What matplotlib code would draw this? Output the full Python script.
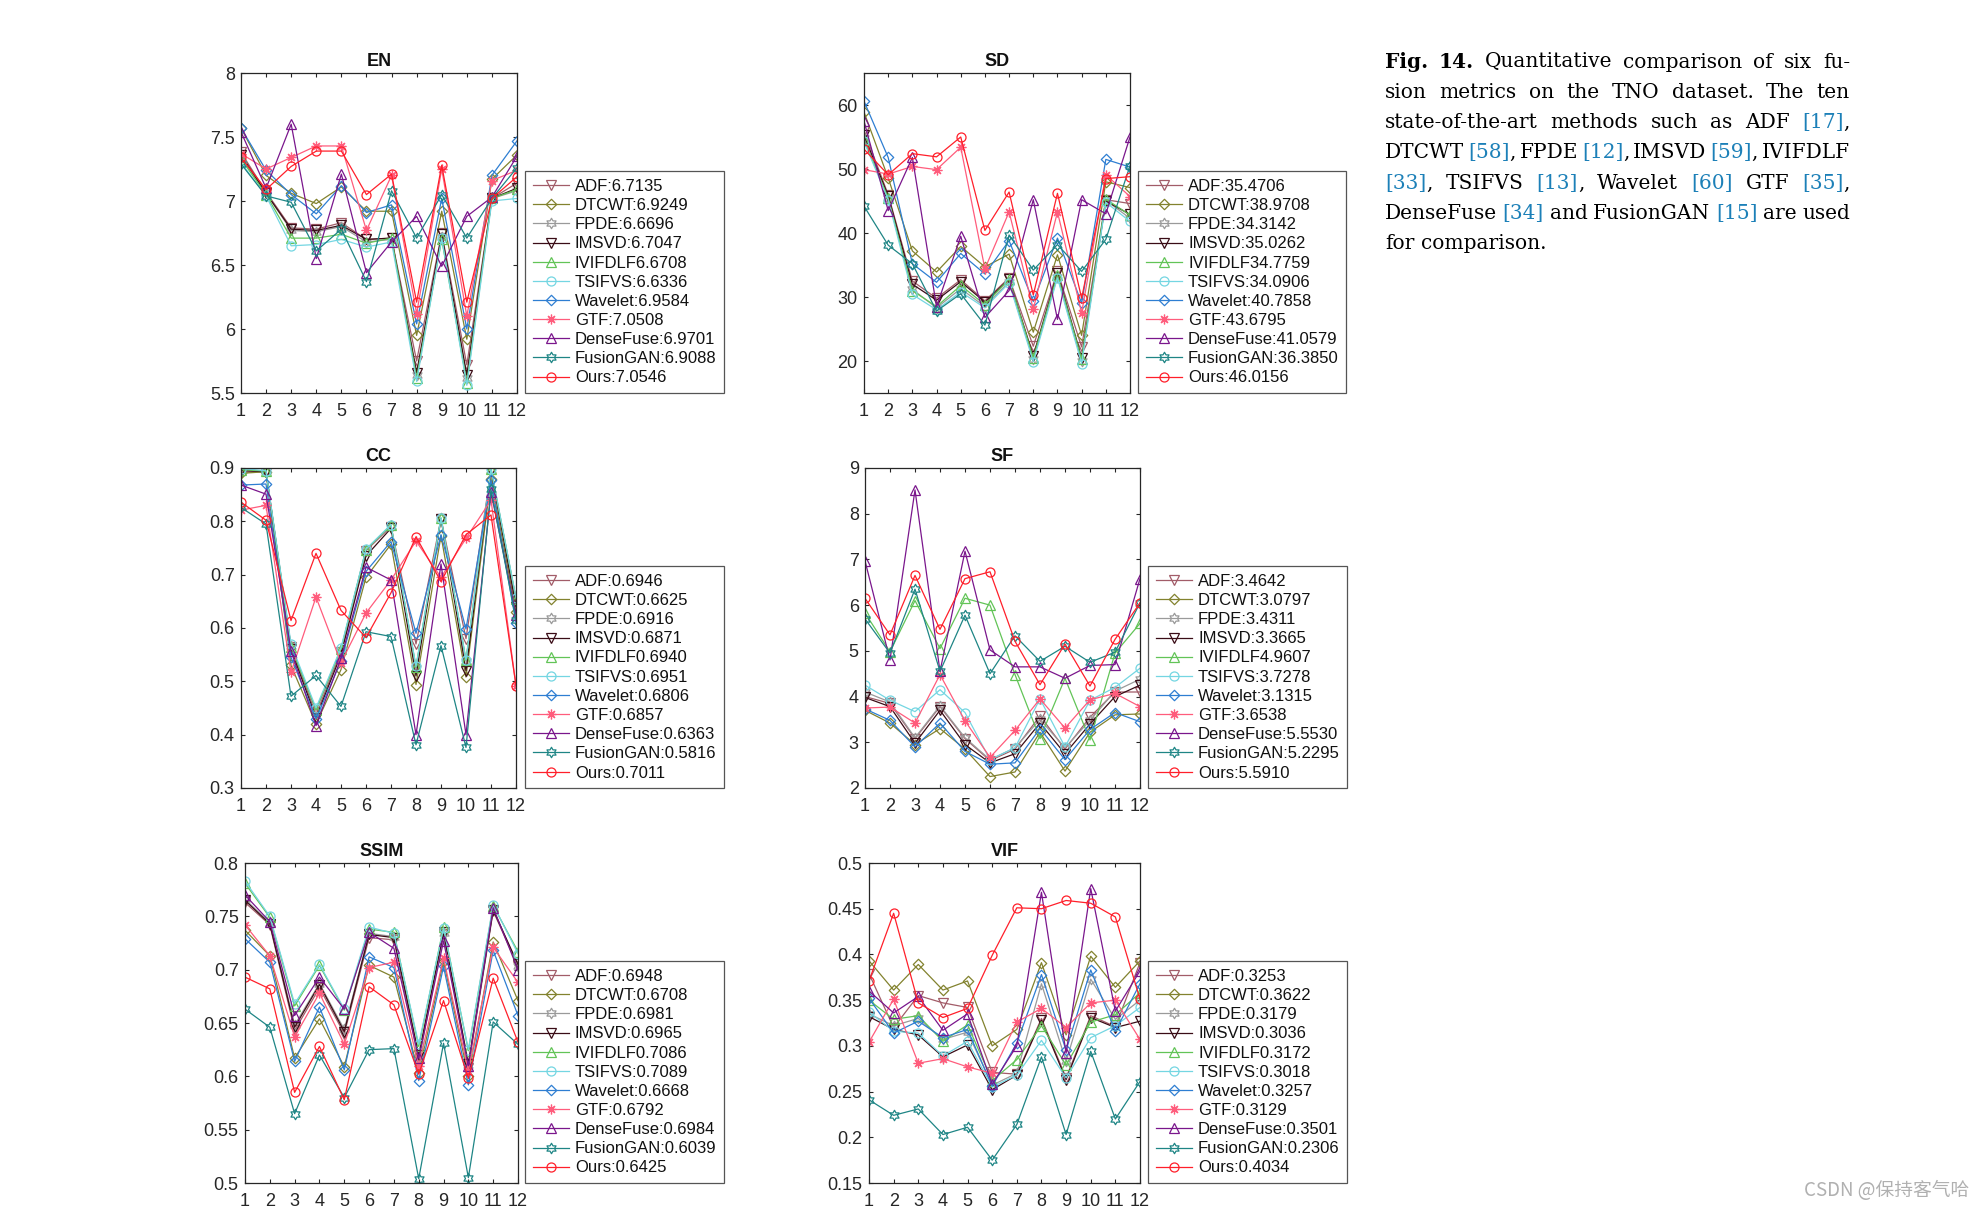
import re
import matplotlib
matplotlib.use("Agg")
import matplotlib.pyplot as plt
from matplotlib.path import Path

# ---------------- data ----------------
x_vals = list(range(1, 13))
methods = ['ADF', 'DTCWT', 'FPDE', 'IMSVD', 'IVIFDLF', 'TSIFVS', 'Wavelet',
           'GTF', 'DenseFuse', 'FusionGAN', 'Ours']
label_prefix = ['ADF:', 'DTCWT:', 'FPDE:', 'IMSVD:', 'IVIFDLF', 'TSIFVS:',
                'Wavelet:', 'GTF:', 'DenseFuse:', 'FusionGAN:', 'Ours:']

# rows follow the order of `methods`
EN_values = [
    [7.38, 7.07, 6.79, 6.78, 6.83, 6.70, 6.71, 5.75, 6.75, 5.72, 7.02, 7.14],
    [7.57, 7.20, 7.06, 6.98, 7.11, 6.92, 6.92, 5.95, 6.92, 5.92, 7.17, 7.36],
    [7.34, 7.06, 6.77, 6.76, 6.80, 6.68, 6.70, 5.64, 6.72, 5.62, 7.02, 7.08],
    [7.36, 7.06, 6.78, 6.77, 6.81, 6.70, 6.71, 5.66, 6.74, 5.64, 7.02, 7.10],
    [7.33, 7.05, 6.71, 6.71, 6.74, 6.67, 6.71, 5.62, 6.70, 5.58, 7.02, 7.09],
    [7.30, 7.04, 6.65, 6.66, 6.70, 6.64, 6.68, 5.59, 6.71, 5.56, 7.00, 7.02],
    [7.57, 7.24, 7.05, 6.90, 7.12, 6.91, 6.97, 6.04, 7.02, 6.00, 7.20, 7.47],
    [7.37, 7.25, 7.34, 7.43, 7.43, 6.77, 7.20, 6.12, 7.25, 6.10, 7.16, 7.24],
    [7.54, 7.10, 7.60, 6.55, 7.21, 6.44, 6.68, 6.88, 6.49, 6.88, 7.03, 7.35],
    [7.29, 7.04, 6.99, 6.61, 6.78, 6.37, 7.08, 6.71, 7.05, 6.71, 7.02, 7.26],
    [7.34, 7.09, 7.27, 7.39, 7.39, 7.05, 7.21, 6.21, 7.28, 6.21, 7.02, 7.19],
]
EN_means = [6.7135, 6.9249, 6.6696, 6.7047, 6.6708, 6.6336, 6.9584, 7.0508, 6.9701, 6.9088, 7.0546]

SD_values = [
    [56.0, 46.0, 32.5, 29.8, 32.7, 29.4, 33.0, 22.3, 34.0, 22.2, 45.2, 44.6],
    [58.9, 48.6, 37.2, 33.9, 37.9, 34.7, 36.7, 24.5, 36.6, 24.0, 48.0, 47.1],
    [54.8, 45.5, 31.2, 28.3, 31.3, 28.5, 32.4, 20.3, 33.2, 20.0, 45.1, 42.3],
    [55.3, 45.8, 32.0, 29.5, 32.4, 29.2, 32.8, 20.8, 33.8, 20.5, 45.0, 42.9],
    [54.5, 45.5, 31.0, 28.5, 31.8, 28.8, 32.8, 20.5, 33.5, 20.3, 45.3, 42.8],
    [54.3, 45.2, 30.4, 28.0, 30.8, 28.3, 32.2, 19.9, 33.0, 19.6, 44.8, 41.8],
    [60.6, 51.8, 35.2, 32.3, 36.8, 33.6, 38.8, 29.3, 39.2, 29.0, 51.5, 50.3],
    [49.9, 49.2, 50.4, 49.9, 53.4, 34.4, 43.3, 28.1, 43.3, 27.5, 49.1, 45.7],
    [57.5, 43.5, 51.8, 28.5, 39.5, 26.8, 31.0, 45.2, 26.5, 45.2, 43.0, 55.0],
    [44.2, 38.1, 35.2, 27.8, 30.5, 25.6, 39.7, 34.2, 38.2, 34.0, 39.0, 50.5],
    [53.1, 49.1, 52.4, 51.9, 55.0, 40.4, 46.4, 30.3, 46.2, 29.8, 48.5, 48.8],
]
SD_means = [35.4706, 38.9708, 34.3142, 35.0262, 34.7759, 34.0906, 40.7858, 43.6795, 41.0579, 36.3850, 46.0156]

CC_values = [
    [0.892, 0.893, 0.565, 0.438, 0.555, 0.745, 0.790, 0.570, 0.805, 0.580, 0.895, 0.648],
    [0.890, 0.893, 0.530, 0.420, 0.522, 0.695, 0.757, 0.494, 0.773, 0.508, 0.880, 0.630],
    [0.897, 0.894, 0.566, 0.445, 0.558, 0.747, 0.792, 0.525, 0.806, 0.538, 0.897, 0.655],
    [0.895, 0.893, 0.560, 0.432, 0.550, 0.735, 0.787, 0.510, 0.805, 0.520, 0.895, 0.640],
    [0.897, 0.894, 0.565, 0.447, 0.561, 0.747, 0.793, 0.527, 0.806, 0.540, 0.898, 0.655],
    [0.899, 0.895, 0.570, 0.450, 0.563, 0.748, 0.794, 0.528, 0.807, 0.540, 0.899, 0.657],
    [0.868, 0.870, 0.545, 0.430, 0.538, 0.706, 0.762, 0.590, 0.775, 0.598, 0.877, 0.609],
    [0.821, 0.830, 0.517, 0.658, 0.535, 0.628, 0.690, 0.763, 0.695, 0.768, 0.840, 0.492],
    [0.868, 0.851, 0.557, 0.417, 0.543, 0.714, 0.690, 0.400, 0.720, 0.400, 0.855, 0.625],
    [0.826, 0.795, 0.472, 0.511, 0.453, 0.593, 0.584, 0.381, 0.567, 0.376, 0.860, 0.615],
    [0.836, 0.802, 0.614, 0.740, 0.633, 0.582, 0.666, 0.771, 0.687, 0.775, 0.812, 0.492],
]
CC_means = [0.6946, 0.6625, 0.6916, 0.6871, 0.6940, 0.6951, 0.6806, 0.6857, 0.6363, 0.5816, 0.7011]

SF_values = [
    [4.00, 3.85, 3.08, 3.78, 3.08, 2.60, 2.85, 3.58, 2.85, 3.55, 4.10, 4.10],
    [3.70, 3.42, 2.95, 3.30, 2.85, 2.25, 2.35, 3.22, 2.37, 3.22, 3.60, 3.62],
    [4.10, 3.88, 3.10, 3.80, 3.10, 2.62, 2.88, 3.50, 2.88, 3.48, 4.12, 4.38],
    [3.98, 3.78, 2.98, 3.70, 2.95, 2.55, 2.75, 3.42, 2.75, 3.40, 4.00, 4.25],
    [5.83, 4.98, 6.10, 5.05, 6.15, 6.00, 4.48, 3.08, 4.40, 3.05, 4.95, 5.60],
    [4.25, 3.92, 3.67, 4.15, 3.65, 2.62, 2.88, 3.95, 2.90, 3.92, 4.20, 4.62],
    [3.73, 3.48, 2.90, 3.42, 2.80, 2.52, 2.55, 3.30, 2.62, 3.28, 3.65, 3.45],
    [3.75, 3.77, 3.42, 4.48, 3.47, 2.67, 3.26, 3.95, 3.31, 3.93, 4.07, 3.78],
    [6.97, 4.80, 8.52, 4.55, 7.18, 5.02, 4.65, 4.65, 4.40, 4.68, 4.70, 6.58],
    [5.70, 4.95, 6.35, 4.55, 5.78, 4.50, 5.33, 4.77, 5.10, 4.75, 4.97, 6.05],
    [6.15, 5.35, 6.65, 5.47, 6.58, 6.73, 5.21, 4.26, 5.15, 4.23, 5.25, 6.05],
]
SF_means = [3.4642, 3.0797, 3.4311, 3.3665, 4.9607, 3.7278, 3.1315, 3.6538, 5.5530, 5.2295, 5.5910]

SSIM_values = [
    [0.763, 0.742, 0.643, 0.683, 0.640, 0.730, 0.728, 0.615, 0.733, 0.608, 0.755, 0.703],
    [0.737, 0.713, 0.617, 0.654, 0.609, 0.704, 0.693, 0.603, 0.708, 0.600, 0.726, 0.671],
    [0.766, 0.744, 0.648, 0.687, 0.644, 0.734, 0.731, 0.618, 0.734, 0.611, 0.757, 0.703],
    [0.765, 0.743, 0.646, 0.686, 0.642, 0.733, 0.730, 0.620, 0.735, 0.612, 0.756, 0.705],
    [0.781, 0.749, 0.666, 0.704, 0.662, 0.738, 0.735, 0.628, 0.740, 0.624, 0.760, 0.717],
    [0.783, 0.750, 0.668, 0.705, 0.663, 0.740, 0.734, 0.630, 0.739, 0.625, 0.761, 0.715],
    [0.729, 0.707, 0.614, 0.665, 0.606, 0.712, 0.702, 0.596, 0.703, 0.592, 0.718, 0.657],
    [0.742, 0.713, 0.637, 0.678, 0.630, 0.702, 0.707, 0.610, 0.711, 0.605, 0.721, 0.688],
    [0.770, 0.745, 0.657, 0.693, 0.663, 0.735, 0.720, 0.617, 0.727, 0.610, 0.758, 0.700],
    [0.663, 0.646, 0.565, 0.620, 0.580, 0.625, 0.626, 0.504, 0.631, 0.505, 0.651, 0.630],
    [0.693, 0.682, 0.585, 0.628, 0.578, 0.684, 0.667, 0.602, 0.671, 0.598, 0.692, 0.632],
]
SSIM_means = [0.6948, 0.6708, 0.6981, 0.6965, 0.7086, 0.7089, 0.6668, 0.6792, 0.6984, 0.6039, 0.6425]

VIF_values = [
    [0.379, 0.320, 0.355, 0.347, 0.342, 0.271, 0.269, 0.330, 0.265, 0.333, 0.321, 0.391],
    [0.393, 0.361, 0.389, 0.361, 0.371, 0.300, 0.318, 0.391, 0.312, 0.398, 0.364, 0.393],
    [0.335, 0.322, 0.330, 0.307, 0.315, 0.257, 0.270, 0.368, 0.283, 0.373, 0.329, 0.350],
    [0.332, 0.318, 0.312, 0.288, 0.301, 0.252, 0.268, 0.328, 0.263, 0.331, 0.320, 0.327],
    [0.350, 0.329, 0.333, 0.305, 0.323, 0.262, 0.285, 0.322, 0.279, 0.326, 0.334, 0.358],
    [0.337, 0.316, 0.314, 0.289, 0.305, 0.255, 0.268, 0.306, 0.265, 0.309, 0.322, 0.342],
    [0.352, 0.314, 0.327, 0.309, 0.318, 0.256, 0.303, 0.378, 0.295, 0.383, 0.316, 0.368],
    [0.304, 0.351, 0.281, 0.286, 0.277, 0.270, 0.326, 0.341, 0.320, 0.347, 0.350, 0.307],
    [0.360, 0.336, 0.354, 0.317, 0.335, 0.258, 0.300, 0.468, 0.292, 0.472, 0.338, 0.382],
    [0.241, 0.224, 0.231, 0.203, 0.211, 0.175, 0.214, 0.288, 0.203, 0.294, 0.220, 0.261],
    [0.371, 0.445, 0.347, 0.331, 0.341, 0.399, 0.451, 0.450, 0.459, 0.456, 0.441, 0.351],
]
VIF_means = [0.3253, 0.3622, 0.3179, 0.3036, 0.3172, 0.3018, 0.3257, 0.3129, 0.3501, 0.2306, 0.4034]

titles = ['EN', 'SD', 'CC', 'SF', 'SSIM', 'VIF']
all_values = [EN_values, SD_values, CC_values, SF_values, SSIM_values, VIF_values]
all_means = [EN_means, SD_means, CC_means, SF_means, SSIM_means, VIF_means]
y_limits = [(5.5, 8), (15, 65), (0.3, 0.9), (2, 9), (0.5, 0.8), (0.15, 0.5)]
y_ticks = [[5.5, 6, 6.5, 7, 7.5, 8], [20, 30, 40, 50, 60],
           [0.3, 0.4, 0.5, 0.6, 0.7, 0.8, 0.9], [2, 3, 4, 5, 6, 7, 8, 9],
           [0.5, 0.55, 0.6, 0.65, 0.7, 0.75, 0.8],
           [0.15, 0.2, 0.25, 0.3, 0.35, 0.4, 0.45, 0.5]]
x_ticks = list(range(1, 13))

# ---------------- styles ----------------
colors = ['#A25C68', '#82822E', '#9A9A9A', '#3A0C16', '#62C457', '#74D6E2',
          '#2E7ED2', '#FF5C7C', '#7A168C', '#1E8585', '#FF1F2A']
hexagram = Path.unit_regular_star(6, 0.577)
diamond = Path([(0, 1), (1, 0), (0, -1), (-1, 0), (0, 1)],
               [Path.MOVETO, Path.LINETO, Path.LINETO, Path.LINETO, Path.CLOSEPOLY])
markers = ['v', diamond, hexagram, 'v', '^', 'o', diamond, (8, 2, 0), '^', hexagram, 'o']
msizes = [7, 7.5, 7.5, 7, 7, 6.5, 7.5, 7, 7, 7.5, 6.5]

W, H = 1984, 1210
fig = plt.figure(figsize=(W / 100, H / 100), dpi=100)
plt.rcParams['font.family'] = ['Liberation Sans', 'DejaVu Sans']

# axes rectangles in pixels: left, top, right, bottom ; legend left x
rects = [(241, 73, 517, 393), (864, 73, 1130, 393),
         (241, 468, 516, 788), (865, 468, 1140, 788),
         (245, 863, 518, 1183), (869, 863, 1140, 1183)]
leg_left = [525, 1138, 525, 1148, 525, 1148]

axcol = '#262626'
for i in range(6):
    l, t, r, b = rects[i]
    ax = fig.add_axes([l / W, 1 - b / H, (r - l) / W, (b - t) / H])
    vals = all_values[i]
    means = all_means[i]
    for k in range(len(methods)):
        ax.plot(x_vals, vals[k], color=colors[k], lw=0.9, marker=markers[k],
                markersize=msizes[k], markerfacecolor='none',
                markeredgecolor=colors[k], markeredgewidth=0.9,
                label='%s%.4f' % (label_prefix[k], means[k]))
    ax.set_xlim(1, 12)
    ax.set_ylim(*y_limits[i])
    ax.set_xticks(x_ticks)
    ax.set_yticks(y_ticks[i])
    ax.set_yticklabels(['%g' % v for v in y_ticks[i]])
    ax.tick_params(axis='both', direction='in', top=True, right=True, length=3,
                   width=0.8, labelsize=13, colors=axcol)
    ax.tick_params(axis='x', pad=7)
    ax.tick_params(axis='y', pad=4.5)
    for sp in ax.spines.values():
        sp.set_color(axcol)
        sp.set_linewidth(0.9)
    ax.set_title(titles[i], fontsize=13, fontweight='bold', pad=5, color='#111111')
    leg = ax.legend(loc='lower left', bbox_to_anchor=(leg_left[i] / W, 1 - b / H),
                    bbox_transform=fig.transFigure, borderaxespad=0,
                    fontsize=12, handlelength=2.2, handletextpad=0.35,
                    labelspacing=0.25, borderpad=0.45, fancybox=False,
                    framealpha=1, edgecolor='#555555', numpoints=1)
    leg.get_frame().set_linewidth(0.9)
    for txt in leg.get_texts():
        txt.set_color('#111111')

# ---------------- caption (justified) ----------------
cap_lines = [
    "*Fig. *14. Quantitative comparison of six fu-",
    "sion metrics on the TNO dataset. The ten",
    "state-of-the-art methods such as ADF [17],",
    "DTCWT [58], FPDE [12], IMSVD [59], IVIFDLF",
    "[33], TSIFVS [13], Wavelet [60] GTF [35],",
    "DenseFuse [34] and FusionGAN [15] are used",
    "for comparison.",
]
ref_color = '#1C80B8'
cap_left, cap_right = 1385, 1850
base0, step = 67.5, 30.3
cap_fs = 14.5
renderer = fig.canvas.get_renderer()


def seg_width(s, bold):
    t = fig.text(0, 0, s, fontsize=cap_fs, family='DejaVu Serif',
                 fontweight='bold' if bold else 'normal')
    w = t.get_window_extent(renderer).width
    t.remove()
    return w


space_w = seg_width('a a', False) - seg_width('aa', False)

for li, line in enumerate(cap_lines):
    words = []
    for tok in line.split(' '):
        if tok.startswith('*'):
            segs = [(tok[1:], 'k', True)]
        else:
            parts = [p for p in re.split(r'(\[\d+\])', tok) if p]
            segs = [(p, ref_color if p.startswith('[') else 'k', False) for p in parts]
        widths = [seg_width(s, bd) for s, c, bd in segs]
        words.append((segs, widths, sum(widths)))
    total = sum(w[2] for w in words)
    if li < len(cap_lines) - 1 and len(words) > 1:
        gap = (cap_right - cap_left - total) / (len(words) - 1)
    else:
        gap = space_w
    xpos = cap_left
    y = base0 + step * li
    for segs, widths, tw in words:
        xx = xpos
        for (s, c, bd), w in zip(segs, widths):
            fig.text(xx / W, 1 - y / H, s, fontsize=cap_fs, family='DejaVu Serif',
                     fontweight='bold' if bd else 'normal', color=c,
                     ha='left', va='baseline')
            xx += w
        xpos += tw + gap

# watermark
fig.text(1969 / W, 1 - 1191 / H, 'CSDN @保持客气哈', ha='right', va='center',
         fontsize=13.5, color='#b0b0b0',
         family=['Noto Sans CJK SC', 'DejaVu Sans'])

fig.savefig('out.png', dpi=100, facecolor='white')
